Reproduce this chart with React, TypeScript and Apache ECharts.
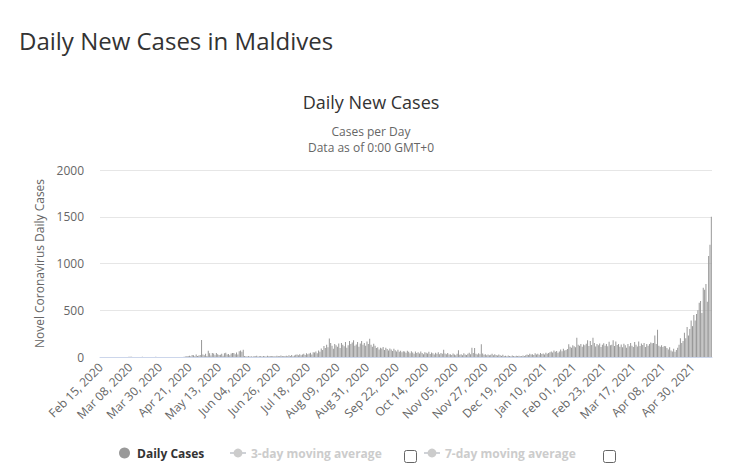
import React, { useEffect, useRef } from "react";
import * as echarts from "echarts";

// Daily new cases, Feb 15, 2020 .. May 14, 2021
const feb2020 = [0,0,0,0,0,0,0,0,0,0,0,0,0,0,0];
const mar2020 = [0,0,0,0,0,0,2,2,4,0,0,1,0,0,0,0,3,0,0,0,0,0,0,0,0,0,2,0,0,0,0];
const apr2020 = [0,0,1,0,0,0,0,0,0,0,0,0,0,0,1,0,3,6,8,12,14,7,21,19,9,28,11,15,22,182];
const may2020 = [28,20,35,12,66,40,15,42,38,18,44,30,22,25,36,14,40,45,28,32,20,38,42,44,30,48,26,62,70,55,78];
const jun2020 = [12,8,5,10,6,9,4,11,7,13,6,8,10,5,12,9,6,14,8,10,7,11,9,6,13,10,8,15,12,9];
const jul2020 = [10,14,8,18,12,22,9,16,25,28,20,30,18,26,35,22,40,30,38,45,28,52,48,60,40,70,55,90,75,118,95];
const aug2020 = [130,105,198,150,120,88,140,125,110,145,95,150,130,115,160,100,125,170,140,155,178,120,135,160,110,145,171,130,150,120,165];
const sep2020 = [140,196,130,110,143,120,95,105,80,100,90,107,75,98,85,70,92,80,65,88,72,60,78,55,68,50,62,58,45,66];
const oct2020 = [55,40,62,48,35,58,44,50,38,60,42,30,52,45,38,55,33,48,40,28,45,36,50,30,42,35,78,38,30,44,26];
const nov2020 = [30,22,38,28,18,35,72,25,30,20,40,28,22,35,45,30,100,42,95,35,28,40,30,136,38,25,30,20,28,18];
const dec2020 = [25,35,18,30,22,15,28,20,12,25,10,14,8,16,12,9,15,11,7,13,10,14,9,12,16,11,18,26,22,35,28];
const jan2021 = [30,22,40,28,35,25,43,32,38,28,45,36,42,50,60,48,70,55,65,45,58,80,62,88,70,75,85,136,110,100,125];
const feb2021 = [115,105,207,130,120,140,110,135,125,143,178,118,170,128,207,150,112,138,125,145,108,132,148,120,140,115,164,125];
const mar2021 = [130,178,118,165,128,140,110,135,105,143,125,100,138,115,150,120,107,160,130,112,165,118,145,128,150,108,138,120,140,155,148];
const apr2021 = [150,230,140,292,120,110,125,108,118,115,95,80,105,70,60,88,55,75,100,130,200,150,170,260,200,320,230,300,390,330];
const may2021 = [450,390,460,500,580,600,470,740,720,780,590,1080,1200,1500];

const dailyCases = [
  ...feb2020, ...mar2020, ...apr2020, ...may2020, ...jun2020, ...jul2020,
  ...aug2020, ...sep2020, ...oct2020, ...nov2020, ...dec2020, ...jan2021,
  ...feb2021, ...mar2021, ...apr2021, ...may2021,
];

const yTicks = [0, 500, 1000, 1500, 2000];
const MONTHS = ["Jan","Feb","Mar","Apr","May","Jun","Jul","Aug","Sep","Oct","Nov","Dec"];
const startDate = Date.UTC(2020, 1, 15);
const categories = dailyCases.map((_, i) => {
  const d = new Date(startDate + i * 86400000);
  const dd = String(d.getUTCDate()).padStart(2, "0");
  return `${MONTHS[d.getUTCMonth()]} ${dd}, ${d.getUTCFullYear()}`;
});

const FONT = "'Open Sans', sans-serif";

export default function App() {
  const ref = useRef<HTMLDivElement>(null);
  useEffect(() => {
    document.body.style.margin = "0";
    const chart = echarts.init(ref.current!, undefined, { renderer: "svg" });
    chart.setOption({
      animation: false,
      backgroundColor: "#fff",
      textStyle: { fontFamily: FONT },
      grid: { left: 100, right: 20, top: 170, bottom: 109, containLabel: false },
      graphic: [
        { type: "text", left: 19, top: 28, style: { text: "Daily New Cases in Maldives", fontSize: 24, fontFamily: FONT, fill: "#333" } },
        { type: "text", x: 371, y: 102, style: { text: "Daily New Cases", fontSize: 18, fontFamily: FONT, fill: "#333", align: "center", verticalAlign: "middle" } },
        { type: "text", x: 371, y: 124, style: { text: "Cases per Day\nData as of 0:00 GMT+0", fontSize: 12, lineHeight: 15.5, fontFamily: FONT, fill: "#666", align: "center", verticalAlign: "top" } },
        { type: "rect", shape: { x: 404.5, y: 450.5, width: 12, height: 12, r: 2 }, style: { fill: "#fff", stroke: "#666", lineWidth: 1 } },
        { type: "rect", shape: { x: 603.5, y: 450.5, width: 12, height: 12, r: 2 }, style: { fill: "#fff", stroke: "#666", lineWidth: 1 } },
      ],
      legend: [
        {
          data: [{ name: "Daily Cases", icon: "circle" }],
          left: 119, top: 447, padding: 0, itemWidth: 15, itemHeight: 11,
          textStyle: { fontSize: 12, fontWeight: "bold", color: "#333", fontFamily: FONT },
          selectedMode: false,
        },
        {
          data: ["3-day moving average"],
          left: 229, top: 447, padding: 0, itemWidth: 16, itemHeight: 11,
          textStyle: { fontSize: 12, fontWeight: "bold", color: "#333", fontFamily: FONT },
          inactiveColor: "#ccc",
          selected: { "3-day moving average": false, "7-day moving average": false },
        },
        {
          data: ["7-day moving average"],
          left: 423, top: 447, padding: 0, itemWidth: 16, itemHeight: 11,
          textStyle: { fontSize: 12, fontWeight: "bold", color: "#333", fontFamily: FONT },
          inactiveColor: "#ccc",
          selected: { "3-day moving average": false, "7-day moving average": false },
        },
      ],
      xAxis: {
        type: "category",
        data: categories,
        axisLine: { lineStyle: { color: "#ccd6eb" } },
        axisTick: { show: false },
        axisLabel: { interval: 21, rotate: 45, fontSize: 12, color: "#666", fontFamily: FONT, margin: 8 },
        splitLine: { show: false },
      },
      yAxis: {
        type: "value",
        min: yTicks[0],
        max: yTicks[yTicks.length - 1],
        interval: 500,
        name: "Novel Coronavirus Daily Cases",
        nameLocation: "middle",
        nameGap: 51,
        nameTextStyle: { fontSize: 12, color: "#666", fontFamily: FONT },
        axisLine: { show: false },
        axisTick: { show: false },
        axisLabel: { fontSize: 12, color: "#666", margin: 16, fontFamily: FONT, formatter: (v: number) => String(v) },
        splitLine: { lineStyle: { color: "#e6e6e6" } },
      },
      series: [
        { name: "Daily Cases", type: "bar", data: dailyCases, itemStyle: { color: "#999" }, barCategoryGap: "25%" },
        { name: "3-day moving average", type: "line", data: [], symbol: "circle", symbolSize: 6, itemStyle: { color: "#999" } },
        { name: "7-day moving average", type: "line", data: [], symbol: "circle", symbolSize: 6, itemStyle: { color: "#999" } },
      ],
    });
    return () => chart.dispose();
  }, []);
  return <div ref={ref} style={{ width: 732, height: 466 }} />;
}
